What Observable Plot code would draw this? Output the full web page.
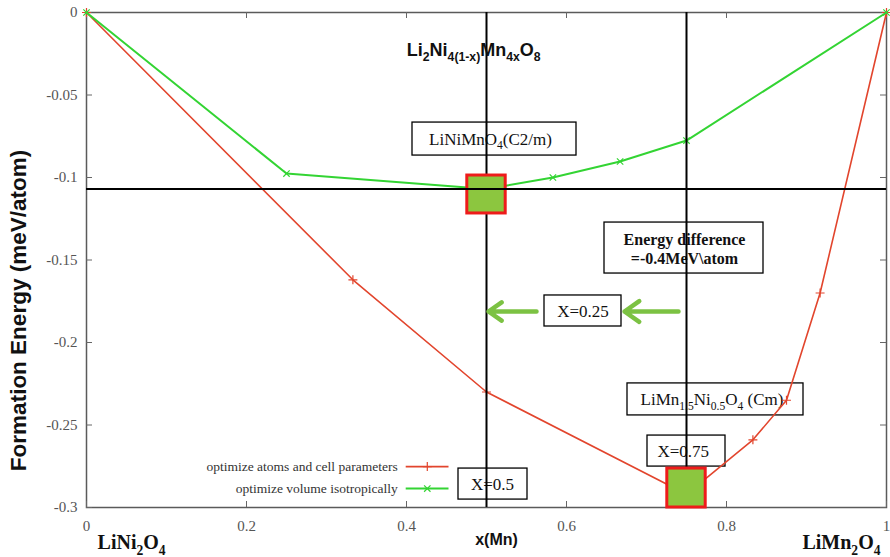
<!DOCTYPE html>
<html>
<head>
<meta charset="utf-8">
<script src="https://cdn.jsdelivr.net/npm/d3@7"></script>
<script src="https://cdn.jsdelivr.net/npm/@observablehq/plot@0.6"></script>
<style>
  html, body { margin: 0; padding: 0; background: #fff; }
  #chart svg { display: block; }
  #chart svg g[aria-label*="axis"] text { font-family: 'Liberation Serif', 'Times New Roman', serif; font-size: 15px; fill: #555; }
</style>
</head>
<body>
<div id="chart"></div>
<script>
// ---- data ----
const xTicks = [0, 0.2, 0.4, 0.6, 0.8, 1];
const yTicks = [0, -0.05, -0.1, -0.15, -0.2, -0.25, -0.3];

const redX = [0, 0.333, 0.5, 0.75, 0.833, 0.875, 0.917, 1];
const redY = [0, -0.162, -0.230, -0.292, -0.259, -0.235, -0.170, 0];

const greenX = [0, 0.25, 0.5, 0.583, 0.667, 0.75, 1];
const greenY = [0, -0.0976, -0.107, -0.100, -0.0903, -0.0776, 0];

const seriesNames = ["optimize atoms and cell parameters", "optimize volume isotropically"];

const refX = [0.5, 0.75];
const refY = [-0.107];

// highlighted structures (green squares)
const sqX1 = [0.476, 0.726], sqX2 = [0.524, 0.774];
const sqY1 = [-0.0988, -0.2764], sqY2 = [-0.1218, -0.3];

// annotation boxes
const boxLabels = ["LiNiMnO_{4}(C2/m)", "Energy difference\n=-0.4MeV\\atom", "X=0.25",
                   "LiMn_{1.5}Ni_{0.5}O_{4} (Cm)", "X=0.75", "X=0.5"];
const boxX1 = [0.4075, 0.6475, 0.5725, 0.67625, 0.70125, 0.465];
const boxX2 = [0.6125, 0.84625, 0.66875, 0.89625, 0.79875, 0.55125];
const boxY1 = [-0.0667, -0.1273, -0.1715, -0.2248, -0.2564, -0.2764];
const boxY2 = [-0.0867, -0.1582, -0.1903, -0.2442, -0.2752, -0.2952];
const boxTX = [0.505, 0.7475, 0.6206, 0.7819, 0.746, 0.5075];
const boxTY = [-0.0767, -0.1427, -0.1812, -0.2345, -0.2658, -0.2858];
const boxBold = [false, true, false, false, false, false];

// arrows
const arrX1 = [0.74, 0.5625], arrX2 = [0.6725, 0.5025], arrY = [-0.1812, -0.1812];

// legend
const legX = 0.389, legY = [-0.2752, -0.2885];

const title = "Li_{2}Ni_{4(1-x)}Mn_{4x}O_{8}";
const yLabel = "Formation Energy (meV/atom)";
const xLabel = "x(Mn)";
const leftEnd = "LiNi_{2}O_{4}";
const rightEnd = "LiMn_{2}O_{4}";

// ---- build ----
const red = "#e2452d", green = "#33d433", sqFill = "#8cc63f", sqStroke = "#ee1b1b", arrowColor = "#7cc243";
const serif = "'Liberation Serif', 'Times New Roman', serif";
const sans = "'Liberation Sans', Arial, sans-serif";

const redData = redX.map((x, i) => ({x, y: redY[i]}));
const greenData = greenX.map((x, i) => ({x, y: greenY[i]}));
const boxes = boxLabels.map((t, i) => ({t, x1: boxX1[i], x2: boxX2[i], y1: boxY1[i], y2: boxY2[i], tx: boxTX[i], ty: boxTY[i], b: boxBold[i]}));
const squares = sqX1.map((x1, i) => ({x1, x2: sqX2[i], y1: sqY1[i], y2: sqY2[i]}));
const arrows = arrX1.map((x1, i) => ({x1, x2: arrX2[i], y: arrY[i]}));

const W = 890, H = 557, mL = 86, mR = 4, mT = 12, mB = 50;
const pw = W - mL - mR, ph = H - mT - mB, tk = 6;

const plot = Plot.plot({
  width: W, height: H,
  marginLeft: mL, marginRight: mR, marginTop: mT, marginBottom: mB,
  style: {fontFamily: serif, fontSize: "15px", color: "#555", background: "#fff", overflow: "visible"},
  x: {domain: [0, 1], ticks: xTicks, tickFormat: d => String(d), tickSize: 0, tickPadding: 13, label: null},
  y: {domain: [-0.3, 0], ticks: yTicks, tickFormat: d => String(d), tickSize: 0, tickPadding: 9, label: null},
  marks: [
    Plot.frame({stroke: "#5a5a5a", strokeWidth: 1.5}),
    Plot.tickY(yTicks, {y: d => d, insetRight: pw - tk, stroke: "#666"}),
    Plot.tickY(yTicks, {y: d => d, insetLeft: pw - tk, stroke: "#666"}),
    Plot.tickX(xTicks, {x: d => d, insetBottom: ph - tk, stroke: "#666"}),
    Plot.tickX(xTicks, {x: d => d, insetTop: ph - tk, stroke: "#666"}),
    // annotation boxes
    Plot.rect(boxes, {x1: "x1", x2: "x2", y1: "y1", y2: "y2", fill: "white", stroke: "black", strokeWidth: 1.3}),
    Plot.text(boxes.filter(d => !d.b), {x: "tx", y: "ty", text: "t", fontFamily: serif, fontSize: 17, fill: "#111"}),
    Plot.text(boxes.filter(d => d.b), {x: "tx", y: "ty", text: "t", fontFamily: serif, fontSize: 16, fontWeight: "bold", lineHeight: 1.2, fill: "#111"}),
    // series
    Plot.line(redData, {x: "x", y: "y", stroke: red, strokeWidth: 1.6}),
    Plot.dot(redData, {x: "x", y: "y", symbol: "plus", r: 3, stroke: red, strokeWidth: 1.2}),
    Plot.line(greenData, {x: "x", y: "y", stroke: green, strokeWidth: 2}),
    Plot.dot(greenData, {x: "x", y: "y", symbol: "times", r: 3, stroke: green, strokeWidth: 1.2}),
    // reference lines
    Plot.ruleX(refX, {x: d => d, y1: -0.3, y2: 0, stroke: "black", strokeWidth: 2}),
    Plot.rect(squares, {x1: "x1", x2: "x2", y1: "y1", y2: "y2", fill: sqFill, stroke: sqStroke, strokeWidth: 3}),
    Plot.ruleY(refY, {y: d => d, stroke: "black", strokeWidth: 2}),
    // arrows
    Plot.arrow(arrows, {x1: "x1", x2: "x2", y1: "y", y2: "y", stroke: arrowColor, strokeWidth: 4.5, headLength: 10, headAngle: 70}),
    // legend
    Plot.text(seriesNames, {x: legX, y: (d, i) => legY[i], text: d => d, textAnchor: "end", fontFamily: serif, fontSize: 13.5, fill: "#333"}),
    Plot.link([0], {x1: 0.399, x2: 0.4525, y1: legY[0], y2: legY[0], stroke: red, strokeWidth: 1.6}),
    Plot.dot([0], {x: 0.426, y: legY[0], symbol: "plus", r: 3, stroke: red, strokeWidth: 1.2}),
    Plot.link([0], {x1: 0.399, x2: 0.4525, y1: legY[1], y2: legY[1], stroke: green, strokeWidth: 2}),
    Plot.dot([0], {x: 0.426, y: legY[1], symbol: "times", r: 3, stroke: green, strokeWidth: 1.2}),
    // titles and labels
    Plot.text([title], {x: 0.484, y: -0.023, text: d => d, fontFamily: sans, fontWeight: "bold", fontSize: 18, fill: "#111"}),
    Plot.text([yLabel], {x: -0.085, y: -0.1806, text: d => d, rotate: -90, fontFamily: sans, fontWeight: "bold", fontSize: 22.5, fill: "#111"}),
    Plot.text([xLabel], {x: 0.5125, y: -0.3195, text: d => d, fontFamily: sans, fontWeight: "bold", fontSize: 16, fill: "#111"}),
    Plot.text([leftEnd], {x: 0.0138, y: -0.3215, text: d => d, textAnchor: "start", fontFamily: serif, fontWeight: "bold", fontSize: 20, fill: "#111"}),
    Plot.text([rightEnd], {x: 0.9925, y: -0.3215, text: d => d, textAnchor: "end", fontFamily: serif, fontWeight: "bold", fontSize: 20, fill: "#111"})
  ]
});

document.getElementById("chart").appendChild(plot);

// convert _{...} markup into subscript tspans
const SVGNS = "http://www.w3.org/2000/svg";
plot.querySelectorAll("text, tspan").forEach(el => {
  if (el.children.length !== 0) return;
  const s = el.textContent;
  if (!s.includes("_{")) return;
  const fs = parseFloat(getComputedStyle(el).fontSize) || 16;
  const shift = fs * 0.28;
  el.textContent = "";
  const re = /_\{([^}]*)\}/g;
  let last = 0, m, lowered = false;
  const add = (txt, sub) => {
    if (!txt) return;
    const t = document.createElementNS(SVGNS, "tspan");
    t.textContent = txt;
    if (sub) {
      t.setAttribute("font-size", (fs * 0.68).toFixed(2));
      if (!lowered) { t.setAttribute("dy", shift.toFixed(2)); lowered = true; }
    } else if (lowered) {
      t.setAttribute("dy", (-shift).toFixed(2)); lowered = false;
    }
    el.appendChild(t);
  };
  while ((m = re.exec(s))) {
    add(s.slice(last, m.index), false);
    add(m[1], true);
    last = re.lastIndex;
  }
  add(s.slice(last), false);
});
</script>
</body>
</html>
